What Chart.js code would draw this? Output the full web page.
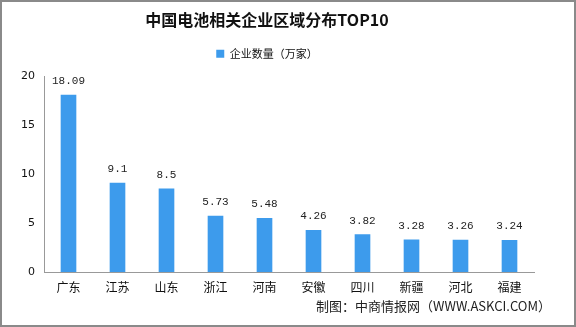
<!DOCTYPE html>
<html>
<head>
<meta charset="utf-8">
<script src="https://cdn.jsdelivr.net/npm/chart.js@4.4.0/dist/chart.umd.min.js"></script>
<style>
  html, body { margin: 0; padding: 0; background: #fff; }
  #wrap { width: 576px; height: 327px; }
</style>
</head>
<body>
<div id="wrap"><canvas id="chart" width="576" height="327"></canvas></div>
<script>
// 数据
const regions = ['广东', '江苏', '山东', '浙江', '河南', '安徽', '四川', '新疆', '河北', '福建'];
const companyCounts = [18.09, 9.1, 8.5, 5.73, 5.48, 4.26, 3.82, 3.28, 3.26, 3.24];
const valueLabels = ['18.09', '9.1', '8.5', '5.73', '5.48', '4.26', '3.82', '3.28', '3.26', '3.24'];
const yTicks = [0, 5, 10, 15, 20];

const CJK = '"Noto Sans CJK SC", "DejaVu Sans", sans-serif';

// 背景 + 边框 + 数值标签 + 来源
const decorPlugin = {
  id: 'decor',
  beforeDraw(chart) {
    const ctx = chart.ctx;
    ctx.save();
    ctx.fillStyle = '#fff';
    ctx.fillRect(0, 0, chart.width, chart.height);
    ctx.restore();
  },
  afterDraw(chart) {
    const ctx = chart.ctx;
    const meta = chart.getDatasetMeta(0);
    ctx.save();
    ctx.fillStyle = '#222';
    ctx.font = '11px "Liberation Mono", monospace';
    ctx.textAlign = 'center';
    ctx.textBaseline = 'middle';
    meta.data.forEach((bar, i) => {
      ctx.fillText(valueLabels[i], bar.x, bar.y - 14);
    });
    // 来源
    ctx.font = '13px ' + CJK;
    ctx.textAlign = 'right';
    ctx.fillStyle = '#222';
    ctx.fillText('制图：中商情报网（WWW.ASKCI.COM）', 551, 306);
    // 边框
    ctx.strokeStyle = '#8a8a8a';
    ctx.lineWidth = 2;
    ctx.strokeRect(1, 1, chart.width - 2, chart.height - 2);
    ctx.restore();
  }
};

new Chart(document.getElementById('chart'), {
  type: 'bar',
  data: {
    labels: regions,
    datasets: [{
      label: '企业数量（万家）',
      data: companyCounts,
      backgroundColor: '#3d9bec',
      barThickness: 15
    }]
  },
  options: {
    responsive: false,
    animation: false,
    layout: { padding: { left: 0, right: 42, top: 0, bottom: 0 } },
    scales: {
      x: {
        grid: { display: false, drawTicks: false },
        border: { color: '#999', width: 1 },
        ticks: { color: '#111', font: { family: CJK, size: 12 }, padding: 8, maxRotation: 0 },
        afterFit(scale) { scale.height = 55; }
      },
      y: {
        min: 0, max: 20,
        afterBuildTicks(scale) { scale.ticks = yTicks.map(v => ({ value: v })); },
        grid: { display: false, drawTicks: true, tickLength: 5, tickColor: '#999' },
        border: { color: '#999', width: 1 },
        ticks: { color: '#111', font: { family: '"DejaVu Sans", sans-serif', size: 11 }, padding: 4 },
        afterFit(scale) { scale.width = 44; }
      }
    },
    plugins: {
      title: {
        display: true,
        text: '中国电池相关企业区域分布TOP10',
        color: '#111',
        font: { family: CJK, size: 16, weight: 'bold' },
        padding: { top: 10, bottom: 12 }
      },
      legend: {
        display: true,
        labels: {
          color: '#111',
          font: { family: CJK, size: 11 },
          boxWidth: 8, boxHeight: 8,
          padding: 7
        }
      },
      // 图例下方留白
      subtitle: {
        display: true,
        text: ' ',
        weight: 500,
        font: { size: 1 },
        padding: { top: 3, bottom: 3 }
      },
      tooltip: { enabled: false }
    }
  },
  plugins: [decorPlugin]
});
</script>
</body>
</html>
